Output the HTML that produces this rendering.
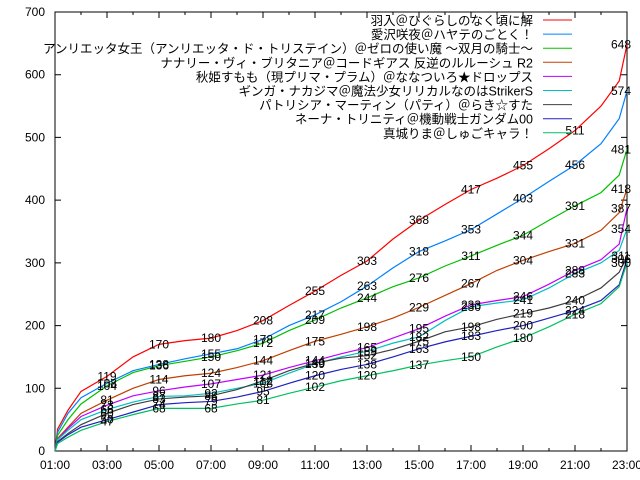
<!DOCTYPE html>
<html><head><meta charset="utf-8">
<style>
body{margin:0;background:#fff;}
svg{display:block;font-family:"Liberation Sans","Noto Sans CJK JP",sans-serif;}
</style></head>
<body>
<svg id="chart" width="640" height="480" viewBox="0 0 640 480" xmlns="http://www.w3.org/2000/svg">
<rect x="0" y="0" width="640" height="480" fill="#fff"/>
<g id="axes"></g>
<g id="series"></g>
<g id="labels"></g>
<g id="legend"></g>
</svg>
<script>
const times = [1,1.1,1.5,2,3,4,5,6,7,8,9,10,11,12,13,14,15,16,17,18,19,20,21,22,22.7,23];
const labelIdx = [4,6,8,10,12,14,16,18,20,22,25];
const xTickLabels = ["01:00","03:00","05:00","07:00","09:00","11:00","13:00","15:00","17:00","19:00","21:00","23:00"];
const yTicks = [0,100,200,300,400,500,600,700];
const names = ["羽入＠ひぐらしのなく頃に解","愛沢咲夜＠ハヤテのごとく！","アンリエッタ女王（アンリエッタ・ド・トリステイン）＠ゼロの使い魔 ～双月の騎士～","ナナリー・ヴィ・ブリタニア＠コードギアス 反逆のルルーシュ R2","秋姫すもも（現プリマ・プラム）＠ななついろ★ドロップス","ギンガ・ナカジマ＠魔法少女リリカルなのはStrikerS","パトリシア・マーティン（パティ）＠らき☆すた","ネーナ・トリニティ＠機動戦士ガンダム00","真城りま＠しゅごキャラ！"];
const colors = ["#ff0000","#0080ff","#00c000","#c04000","#c000ff","#00c0c0","#404040","#2020c0","#00c060"];
const sRed    = [0,35,65,95,119,150,170,176,180,192,208,232,255,280,303,338,368,393,417,435,455,482,511,550,590,648];
const sBlue   = [0,30,60,85,108,128,138,147,155,163,178,200,217,238,263,292,318,335,353,378,403,430,456,490,530,574];
const sGreen  = [0,25,50,75,104,125,136,143,150,160,172,192,209,228,244,262,276,295,311,328,344,368,391,412,440,481];
const sBrown  = [0,20,38,60,81,100,114,120,124,133,144,160,175,186,198,212,229,248,267,288,304,318,331,352,380,418];
const sPurple = [0,18,36,55,73,88,96,102,107,114,121,133,144,155,165,180,195,215,233,240,246,266,288,305,330,387];
const sCyan   = [0,18,33,50,66,78,87,88,92,100,108,124,139,150,159,172,182,208,230,236,241,260,283,300,320,354];
const sGrey   = [0,15,28,42,60,74,83,86,88,98,112,128,140,148,152,162,175,190,198,210,219,228,240,260,285,311];
const sNavy   = [0,14,26,38,50,62,74,77,79,86,95,108,120,130,138,150,163,174,183,192,200,212,224,240,265,306];
const sTeal   = [0,12,22,33,47,58,68,68,68,75,81,92,102,112,120,128,137,144,150,166,180,198,218,235,262,300];
const seriesList = [sRed,sBlue,sGreen,sBrown,sPurple,sCyan,sGrey,sNavy,sTeal];

const L=55,R=627,T=12,B=451;
const xs = t => L + (t-1)*(R-L)/22;
const ys = v => B - v*(B-T)/700;
const NS="http://www.w3.org/2000/svg";
function mk(tag, parent){const e=document.createElementNS(NS,tag);parent.appendChild(e);return e;}
const axes=document.getElementById('axes');
const frame=mk('rect',axes);


frame.setAttribute('x',L);frame.setAttribute('y',T);frame.setAttribute('width',R-L);frame.setAttribute('height',B-T);
frame.setAttribute('fill','none');frame.setAttribute('stroke','#000');frame.setAttribute('stroke-width','1');
yTicks.forEach(v=>{
  const y=ys(v);
  const tk=mk('path',axes);
  
  
  tk.setAttribute('d',`M${L} ${y}h6M${R} ${y}h-6`);tk.setAttribute('stroke','#000');
  const tx=mk('text',axes);
  
  
  tx.setAttribute('x',L-10);tx.setAttribute('y',y+4);tx.setAttribute('text-anchor','end');tx.setAttribute('font-size','12');
  tx.textContent=v;
});
for(let h=1;h<=23;h++){
  const x=xs(h);const major=(h%2===1);const len=major?6:3;
  const tk=mk('path',axes);
  
  
  tk.setAttribute('d',`M${x} ${B}v${-len}M${x} ${T}v${len}`);tk.setAttribute('stroke','#000');
}
xTickLabels.forEach((s,i)=>{
  const tx=mk('text',axes);
  
  
  tx.setAttribute('x',xs(1+2*i));tx.setAttribute('y',B+18);tx.setAttribute('text-anchor','middle');tx.setAttribute('font-size','12');
  tx.textContent=s;
});
const sg=document.getElementById('series');
const lg=document.getElementById('labels');
seriesList.forEach((arr,si)=>{
  let d='';
  arr.forEach((v,i)=>{
    d+=(i===0?'M':'L')+xs(times[i])+' '+ys(v);
  });
  const p=mk('path',sg);
  
  
  p.setAttribute('d',d);p.setAttribute('fill','none');p.setAttribute('stroke',colors[si]);p.setAttribute('stroke-width','1.2');
  labelIdx.forEach(i=>{
    const t=mk('text',lg);
    
    
    let x=xs(times[i]); if(i===arr.length-1) x-=6;
    t.setAttribute('x',x);t.setAttribute('y',ys(arr[i])+4);t.setAttribute('text-anchor','middle');t.setAttribute('font-size','12');
    t.textContent=arr[i];
  });
});
const leg=document.getElementById('legend');
names.forEach((n,i)=>{
  const y=20+i*14.1;
  const t=mk('text',leg);
  
  
  t.setAttribute('x',533);t.setAttribute('y',y+5);t.setAttribute('text-anchor','end');t.setAttribute('font-size','12.5');
  t.textContent=n;
  const l=mk('line',leg);
  
  
  l.setAttribute('x1',543);l.setAttribute('x2',572);l.setAttribute('y1',y);l.setAttribute('y2',y);l.setAttribute('stroke',colors[i]);
});
</script>
</body></html>
